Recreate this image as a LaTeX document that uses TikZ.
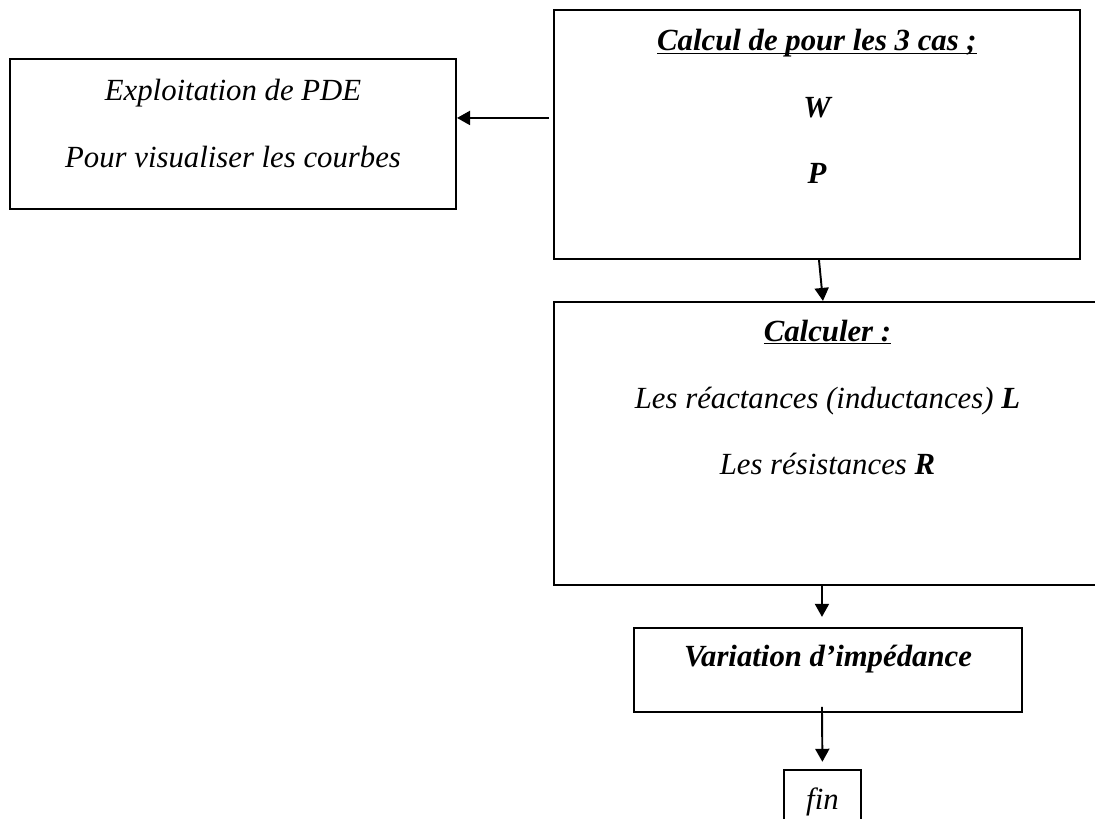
\documentclass[tikz,border=0pt]{standalone}
\usepackage{fontspec}
\setmainfont{Liberation Serif}
\usepackage{tikz}
\usetikzlibrary{arrows.meta,positioning}
\newcommand{\titre}[1]{\underline{\smash{#1}}}

\begin{document}
\begin{tikzpicture}[>={Triangle[length=2.6mm,width=2.8mm]},
 box/.style={draw,line width=1.1pt,inner sep=0pt,align=center,
 font=\fontsize{17.5pt}{38pt}\selectfont\itshape},
 fleche/.style={->,line width=1.1pt}]
\useasboundingbox (0,0) rectangle (21.9,-16.38);
\node[box,anchor=north west,minimum width=10.52cm,text height=3.48cm,text depth=1.5cm]
 (calc) at (11.06,-.18) {\textbf{\titre{Calcul de pour les 3 cas ;}}\\\textbf{W}\\\textbf{P}};
\node[box,left=1.92cm of calc,minimum width=8.92cm,text height=2.16cm,text depth=.84cm]
 (expl) {Exploitation de PDE\\Pour visualiser les courbes};
\node[box,below right=.82cm and 0cm of calc.south west,minimum width=10.94cm,
 text height=3.46cm,text depth=2.2cm]
 (calcul) {\textbf{\titre{Calculer :}}\\Les réactances (inductances) \textbf{L}\\Les résistances \textbf{R}};
\node[box,below right=.82cm and 1.6cm of calcul.south west,minimum width=7.76cm,
 text height=.78cm,text depth=.9cm] (var) {\textbf{Variation d’impédance}};
\node[box,below right=1.12cm and 3cm of var.south west,minimum width=1.54cm,
 text height=.8cm,text depth=.7cm] (fin) {fin};
\draw[fleche] ([xshift=-.08cm,yshift=.33cm]calc.west) -- ([yshift=.33cm]expl.east);
\draw[fleche] ([xshift=.04cm]calc.south) -- ([xshift=-.09cm]calcul.north);
\draw[fleche,shorten >=.2cm] ([xshift=-.11cm]calcul.south) -- ([xshift=-.12cm]var.north);
\draw[fleche,shorten >=.14cm] ([xshift=-.12cm,yshift=.12cm]var.south) -- (fin.north);
\end{tikzpicture}
\end{document}
